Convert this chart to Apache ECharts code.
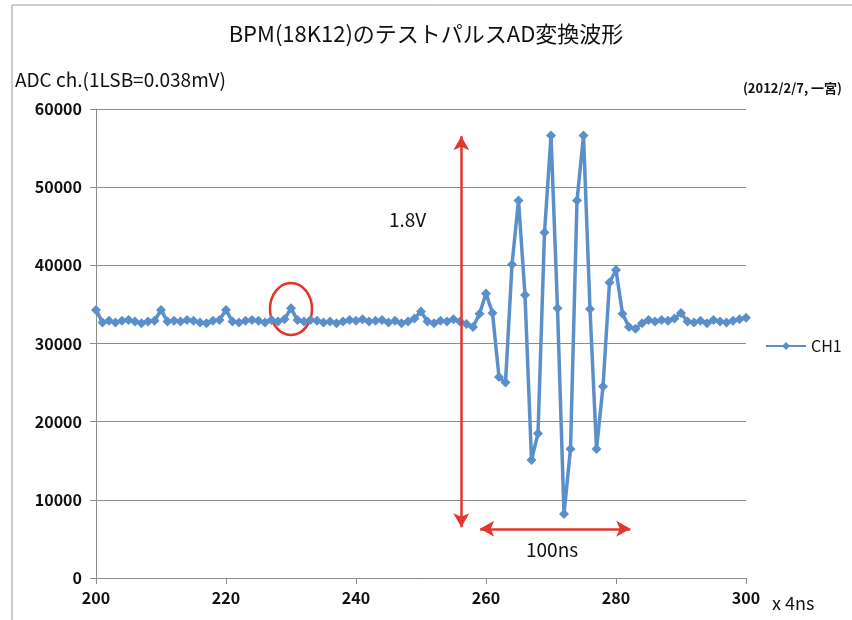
<!DOCTYPE html>
<html>
<head>
<meta charset="utf-8">
<script src="https://cdn.jsdelivr.net/npm/echarts@6/dist/echarts.min.js"></script>
<style>html,body{margin:0;padding:0;background:#fff}#c{width:852px;height:620px}</style>
</head>
<body>
<div id="c"></div>
<script>
const titleText = 'BPM(18K12)のテストパルスAD変換波形';
const yAxisTitle = 'ADC ch.(1LSB=0.038mV)';
const noteText = '(2012/2/7, 一宮)';
const xUnitText = 'x 4ns';
const seriesName = 'CH1';
const xStart = 200;
const ch1 = [
  34300, 32700, 32900, 32700, 32900, 33000, 32800, 32600, 32800, 32900,
  34300, 32800, 32900, 32800, 33000, 32900, 32700, 32600, 32900, 33000,
  34300, 32800, 32700, 32900, 33000, 32900, 32700, 33000, 32800, 33100,
  34500, 33000, 32800, 33000, 32900, 32700, 32800, 32600, 32800, 33000,
  32900, 33100, 32800, 32900, 33000, 32700, 32900, 32600, 32800, 33200,
  34100, 32800, 32600, 32900, 32800, 33100, 32800, 32500, 32100, 33800,
  36400, 33900, 25700, 25000, 40100, 48300, 36200, 15100, 18500, 44200,
  56600, 34500, 8200, 16500, 48300, 56600, 34400, 16500, 24500, 37800,
  39400, 33800, 32100, 31900, 32600, 33000, 32800, 33000, 32900, 33200,
  33900, 32800, 32700, 32900, 32600, 33000, 32800, 32700, 32900, 33100,
  33300
];
const vArrow = [[256.2, 6500], [256.2, 56500]];
const hArrow = [[259.1, 6300], [282.2, 6300]];
const vLabel = '1.8V';
const hLabel = '100ns';

const data = ch1.map((v, i) => [xStart + i, v]);
const FONT = '"Noto Sans CJK JP", "Noto Sans", sans-serif';
const RED = '#e2352b';
const TXT = '#111';
const BLUE = '#5b8fca';

const chart = echarts.init(document.getElementById('c'), null, {renderer: 'canvas'});
chart.setOption({
  animation: false,
  backgroundColor: '#fff',
  textStyle: {fontFamily: FONT},
  grid: {left: 96, right: 106, top: 109, bottom: 42, containLabel: false},
  legend: {
    data: [seriesName], left: 760, top: 333, itemWidth: 40, itemHeight: 10, itemGap: 4,
    textStyle: {fontFamily: FONT, fontSize: 16, color: TXT}
  },
  xAxis: {
    type: 'value', min: 200, max: 300, interval: 20,
    axisLine: {show: true, onZero: false, lineStyle: {color: '#8c8c8c', width: 1}},
    axisTick: {show: true, inside: false, length: 6, lineStyle: {color: '#8c8c8c'}},
    axisLabel: {fontSize: 16, color: TXT, margin: 12, fontFamily: FONT, fontWeight: 'bold'},
    splitLine: {show: false}
  },
  yAxis: {
    type: 'value', min: 0, max: 60000, interval: 10000,
    axisLine: {show: true, lineStyle: {color: '#8c8c8c', width: 1}},
    axisTick: {show: true, length: 6, lineStyle: {color: '#8c8c8c'}},
    axisLabel: {fontSize: 16, color: TXT, margin: 14, fontFamily: FONT, fontWeight: 'bold',
      formatter: v => String(v)},
    splitLine: {show: true, lineStyle: {color: '#8c8c8c', width: 1}}
  },
  series: [{
    name: seriesName, type: 'line', data: data,
    symbol: 'diamond', symbolSize: 10,
    lineStyle: {color: BLUE, width: 3.5},
    itemStyle: {color: BLUE},
    markLine: {
      silent: true, symbol: ['arrow', 'arrow'], symbolSize: [12, 14],
      lineStyle: {color: RED, width: 2.5, type: 'solid'},
      label: {show: false},
      data: [
        [{coord: vArrow[0]}, {coord: vArrow[1]}],
        [{coord: hArrow[0]}, {coord: hArrow[1]}]
      ]
    }
  }],
  graphic: [
    {type: 'rect', shape: {x: 12, y: 5, width: 900, height: 700}, style: {fill: 'none', stroke: '#9a9a9a', lineWidth: 1}, silent: true},
    {type: 'text', left: 'center', top: 23, style: {text: titleText, font: '22px ' + FONT, fill: TXT}},
    {type: 'text', left: 15, top: 70, style: {text: yAxisTitle, font: '19px ' + FONT, fill: TXT}},
    {type: 'text', right: 10, top: 82, style: {text: noteText, font: 'bold 13px ' + FONT, fill: TXT}},
    {type: 'text', left: 772, top: 594, style: {text: xUnitText, font: '18px ' + FONT, fill: TXT}},
    {type: 'text', left: 389, top: 210, style: {text: vLabel, font: '19px ' + FONT, fill: TXT}},
    {type: 'text', left: 526, top: 540, style: {text: hLabel, font: '19px ' + FONT, fill: TXT}},
    {type: 'ellipse', shape: {cx: 291, cy: 309, rx: 21, ry: 26}, style: {fill: 'none', stroke: RED, lineWidth: 2.5}, silent: true}
  ]
});
</script>
</body>
</html>
